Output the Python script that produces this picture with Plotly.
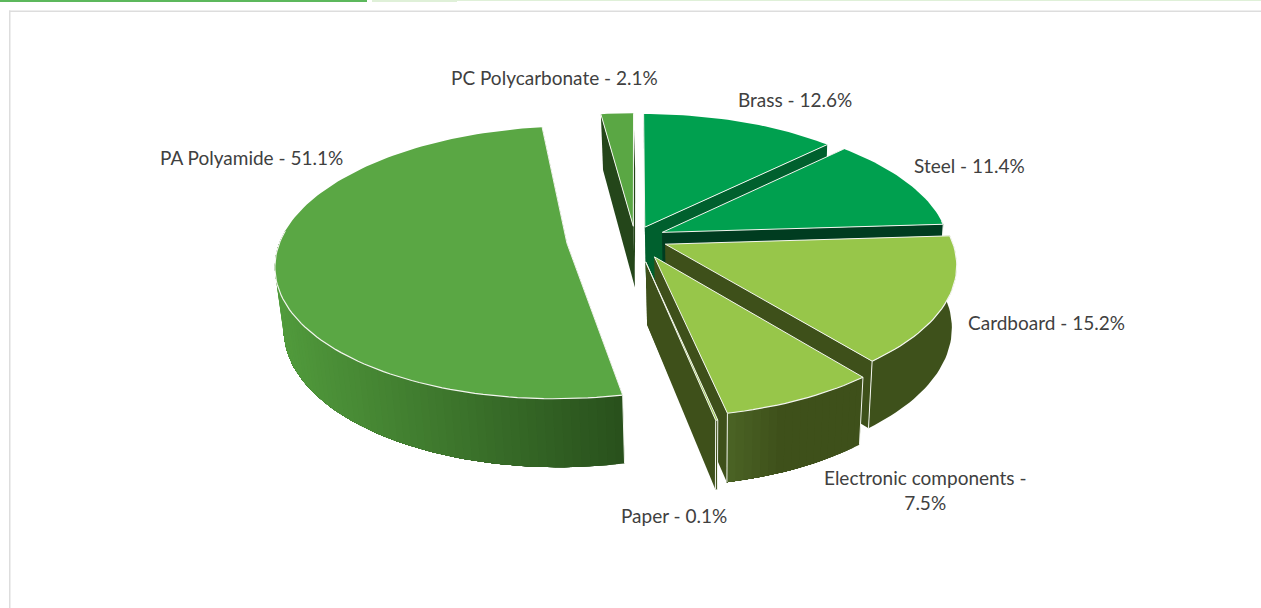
import math
import plotly.graph_objects as go

# --- data, clockwise from 12 o'clock, as printed in the labels
categories = ["Brass", "Steel", "Cardboard", "Electronic components", "Paper", "PA Polyamide", "PC Polycarbonate"]
values = [12.6, 11.4, 15.2, 7.5, 0.1, 51.1, 2.1]

# --- styling per slice, in the same order
explode = [0.09, 0.105, 0.115, 0.155, 0.18, 0.24, 0.09]
top_colors = ["#00A04F", "#00A04F", "#97C64A", "#97C64A", "#97C64A", "#5AA744", "#5AA744"]
face_colors = ["#00602E", "#003C20", "#3E501A", "#3E501A", "#3E501A", "#28501C", "#24461A"]
wall_left = ["#00602E", "#003C20", "#3E511B", "#4B6425", "#3E501A", "#519B3C", "#24461A"]
wall_right = ["#00602E", "#003C20", "#3E511B", "#3E501A", "#3E501A", "#28501C", "#24461A"]
wall_fade = [1, 1, 1, 0.4, 1, 1, 1]
draw_order = [6, 0, 1, 5, 2, 3, 4]
label_xy = [(795, 99), (969.5, 165), (1046, 322), (925, 490), (674, 515), (251, 157), (554, 77)]

# --- projection of the tilted pie onto the page
CX, CY, RX, RY, DEPTH = 635, 238, 286, 132, 63
PERSP, PERSP_Z, DRIFT_Z = 0.1407, 0.02, 1.6
EDGE = "#F4F6F0"


def project(u, v, z):
    s = 1 / (1 + PERSP * v + PERSP_Z * z)
    return CX + RX * u * s + DRIFT_Z * z, CY - RY * v * s + DEPTH * z * s


def poly(fig, pts, fill, line=None, width=1.0):
    xs = [p[0] for p in pts] + [pts[0][0]]
    ys = [p[1] for p in pts] + [pts[0][1]]
    fig.add_trace(go.Scatter(
        x=xs, y=ys, mode="lines", fill="toself", fillcolor=fill,
        line=dict(color=line or fill, width=width if line else 0),
        hoverinfo="skip", showlegend=False))


def stroke(fig, pts, width=1.2):
    fig.add_trace(go.Scatter(
        x=[p[0] for p in pts], y=[p[1] for p in pts], mode="lines",
        line=dict(color=EDGE, width=width), hoverinfo="skip", showlegend=False))


def mix(a, b, t):
    ca = [int(a[i:i + 2], 16) for i in (1, 3, 5)]
    cb = [int(b[i:i + 2], 16) for i in (1, 3, 5)]
    return "#" + "".join(f"{round(x + (y - x) * t):02X}" for x, y in zip(ca, cb))


fig = go.Figure()
total = sum(values)
starts = []
acc = 0.0
for val in values:
    starts.append(acc)
    acc += val

for i in draw_order:
    a0 = starts[i] / total * 2 * math.pi
    a1 = (starts[i] + values[i]) / total * 2 * math.pi
    mid = (a0 + a1) / 2
    ox, oy = explode[i] * math.sin(mid), explode[i] * math.cos(mid)
    n = max(2, int((a1 - a0) / math.radians(1.5)))
    angles = [a0 + (a1 - a0) * k / n for k in range(n + 1)]
    rim = [(ox + math.sin(a), oy + math.cos(a)) for a in angles]
    top_rim = [project(u, v, 0) for u, v in rim]
    bot_rim = [project(u, v, 1) for u, v in rim]
    apex_t, apex_b = project(ox, oy, 0), project(ox, oy, 1)

    # flat cut faces
    poly(fig, [apex_t, top_rim[0], bot_rim[0], apex_b], face_colors[i])
    poly(fig, [apex_t, top_rim[-1], bot_rim[-1], apex_b], face_colors[i])

    # outer wall on the near side only: overlapping bands, so the shading has no seams
    near = [k for k, a in enumerate(angles) if math.cos(a) < 0.1]
    if len(near) >= 2:
        t_near = [top_rim[k] for k in near]
        b_near = [bot_rim[k] for k in near]
        xmin = min(p[0] for p in t_near)
        xmax = max(p[0] for p in t_near)
        if wall_left[i] == wall_right[i]:
            poly(fig, t_near + b_near[::-1], wall_left[i])
        else:
            for k in range(len(near) - 1):
                t = ((t_near[k][0] + t_near[k + 1][0]) / 2 - xmin) / max(xmax - xmin, 1)
                poly(fig, t_near[k:] + b_near[k:][::-1],
                     mix(wall_left[i], wall_right[i], min(1, t / wall_fade[i])))
        if near[0] == 0:
            stroke(fig, [top_rim[0], bot_rim[0]], 1.0)
        if near[-1] == n:
            stroke(fig, [top_rim[-1], bot_rim[-1]], 1.0)

    # top surface, edged where it meets a darker side
    poly(fig, [apex_t] + top_rim, top_colors[i])
    stroke(fig, [top_rim[0], apex_t, top_rim[-1]], 1.0)
    if len(near) >= 2:
        stroke(fig, [top_rim[k] for k in near], 1.2)

annotations = []
for i, cat in enumerate(categories):
    text = f"{cat} - {values[i]}%"
    if cat == "Electronic components":
        text = f"{cat} -<br>{values[i]}%"
    annotations.append(dict(
        x=label_xy[i][0], y=label_xy[i][1], xref="x", yref="y", text=text,
        showarrow=False, align="center", xanchor="center", yanchor="middle",
        font=dict(family="Lato, Carlito, sans-serif", size=19, color="#404040")))

shapes = [
    dict(type="rect", xref="x", yref="y", x0=0, x1=367, y0=0, y1=2, fillcolor="#5CB85C", line_width=0, layer="below"),
    dict(type="rect", xref="x", yref="y", x0=372, x1=457, y0=0, y1=2, fillcolor="#DFF0D8", line_width=0, layer="below"),
    dict(type="rect", xref="x", yref="y", x0=457, x1=1261, y0=0, y1=1, fillcolor="#DFF0D8", line_width=0, layer="below"),
    dict(type="rect", xref="x", yref="y", x0=9, x1=1261, y0=10.5, y1=12, fillcolor="#DDDDDD", line_width=0, layer="below"),
    dict(type="rect", xref="x", yref="y", x0=9, x1=10.5, y0=10.5, y1=608, fillcolor="#DDDDDD", line_width=0, layer="below"),
]

fig.update_layout(
    width=1261, height=608, autosize=False,
    margin=dict(l=0, r=0, t=0, b=0),
    paper_bgcolor="white", plot_bgcolor="white",
    xaxis=dict(range=[0, 1261], visible=False, fixedrange=True),
    yaxis=dict(range=[608, 0], visible=False, fixedrange=True),
    annotations=annotations, shapes=shapes, showlegend=False,
)
fig.write_html(
    "out.html",
    config=dict(displayModeBar=False),
    post_script="document.body.style.margin='0';document.documentElement.style.overflow='hidden';",
)
